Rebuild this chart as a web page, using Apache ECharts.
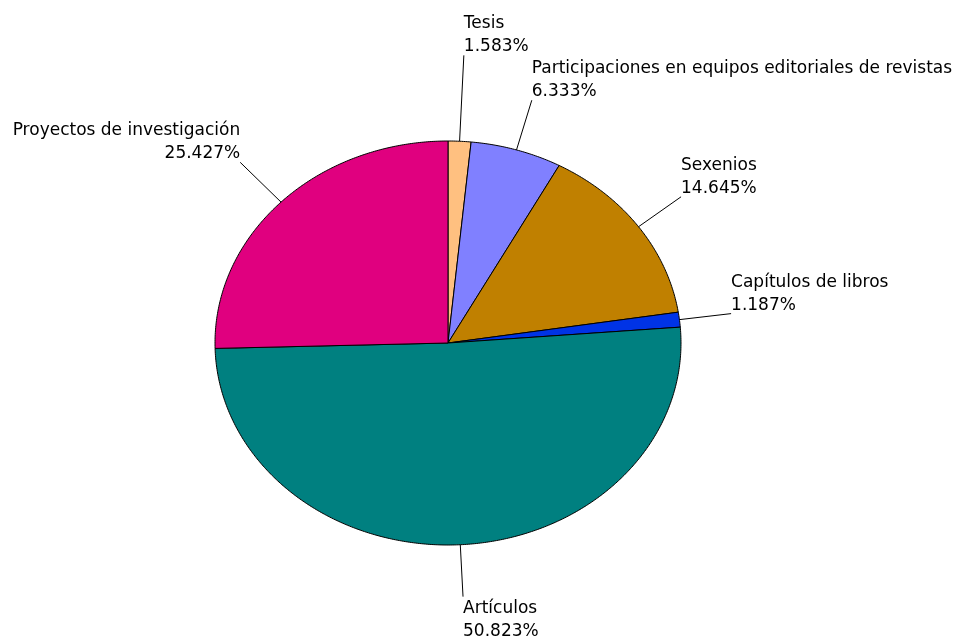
<!DOCTYPE html>
<html>
<head>
<meta charset="utf-8">
<script src="https://cdn.jsdelivr.net/npm/echarts@6/dist/echarts.min.js"></script>
<style>
html,body{margin:0;padding:0;background:#fff;}
#chart{width:958px;height:640px;}
</style>
</head>
<body>
<div id="chart"></div>
<script>
const categories = ['Tesis', 'Participaciones en equipos editoriales de revistas', 'Sexenios', 'Capítulos de libros', 'Artículos', 'Proyectos de investigación'];
const percentages = [1.583, 6.333, 14.645, 1.187, 50.823, 25.427];
const sliceColors = ['#FFC080', '#8080FF', '#C08000', '#0033E6', '#008080', '#E0007F'];

// layout constants
const CX = 448, CY = 343, RX = 233, RY = 202;
const LEADER = 52;
const LEADER_EXTRA = { 'Tesis': 34, 'Proyectos de investigación': 5 };

const total = percentages.reduce((a, b) => a + b, 0);
const cum = [];
let acc = 0;
percentages.forEach(v => { cum.push(acc); acc += v; });

function pt(theta, rx, ry) {
  return [CX + rx * Math.sin(theta), CY - ry * Math.cos(theta)];
}

const chart = echarts.init(document.getElementById('chart'));
chart.setOption({
  animation: false,
  series: [{
    type: 'custom',
    coordinateSystem: 'none',
    data: percentages.map((v, i) => [v, i]),
    renderItem: function (params, api) {
      const i = params.dataIndex;
      const v = api.value(0);
      const a0 = cum[i] / total * Math.PI * 2;
      const a1 = (cum[i] + v) / total * Math.PI * 2;
      const pts = [[CX, CY]];
      const steps = Math.max(2, Math.ceil((a1 - a0) / (Math.PI / 360)));
      for (let k = 0; k <= steps; k++) {
        pts.push(pt(a0 + (a1 - a0) * k / steps, RX, RY));
      }
      const mid = (a0 + a1) / 2;
      const L = LEADER + (LEADER_EXTRA[categories[i]] || 0);
      const s = pt(mid, RX, RY);
      const e = pt(mid, RX + L, RY + L);
      const right = Math.sin(mid) >= 0;
      const upper = Math.cos(mid) >= 0;
      return {
        type: 'group',
        children: [
          {
            type: 'polygon',
            shape: { points: pts },
            style: { fill: sliceColors[i], stroke: '#000', lineWidth: 1 }
          },
          {
            type: 'line',
            shape: { x1: s[0], y1: s[1], x2: e[0], y2: e[1] },
            style: { stroke: '#000', lineWidth: 1 }
          },
          {
            type: 'text',
            x: e[0],
            y: e[1] + (upper ? 3 : 0),
            style: {
              text: categories[i] + '\n' + v.toFixed(3) + '%',
              fill: '#000',
              font: '17px "DejaVu Sans", Verdana, sans-serif',
              lineHeight: 23,
              align: right ? 'left' : 'right',
              verticalAlign: upper ? 'bottom' : 'top'
            }
          }
        ]
      };
    }
  }]
});
</script>
</body>
</html>
